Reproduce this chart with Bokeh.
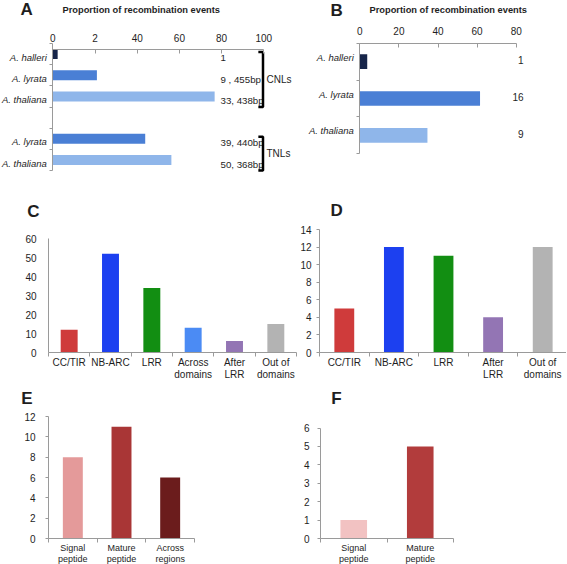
from bokeh.plotting import figure
from bokeh.models import Range1d, LinearAxis, FixedTicker
from bokeh.layouts import row, column
from bokeh.embed import file_html
from bokeh.resources import INLINE
from bokeh.core.properties import value

# ---------------- data ----------------
a_species = ["A. halleri", "A. lyrata", "A. thaliana", "A. lyrata", "A. thaliana"]
a_group = ["CNLs", "CNLs", "CNLs", "TNLs", "TNLs"]
a_values = [2.3, 20.9, 76.7, 43.8, 56.2]
a_notes = ["1", "9 , 455bp", "33, 438bp", "39, 440bp", "50, 368bp"]
a_ticks = [0, 20, 40, 60, 80, 100]
a_tick_labels = ["0", "2", "40", "60", "80", "100"]

b_species = ["A. halleri", "A. lyrata", "A. thaliana"]
b_values = [3.8, 61.5, 34.6]
b_notes = ["1", "16", "9"]
b_ticks = [0, 20, 40, 60, 80]
b_tick_labels = ["0", "20", "40", "60", "80"]

c_domains = ["CC/TIR", "NB-ARC", "LRR", "Across\ndomains", "After\nLRR", "Out of\ndomains"]
c_values = [12, 52, 34, 13, 6, 15]
c_ticks = [0, 10, 20, 30, 40, 50, 60]

d_domains = ["CC/TIR", "NB-ARC", "LRR", "After\nLRR", "Out of\ndomains"]
d_values = [5, 12, 11, 4, 12]
d_ticks = [0, 2, 4, 6, 8, 10, 12, 14]

e_regions = ["Signal\npeptide", "Mature\npeptide", "Across\nregions"]
e_values = [8, 11, 6]
e_ticks = [0, 2, 4, 6, 8, 10, 12]

f_regions = ["Signal\npeptide", "Mature\npeptide"]
f_values = [1, 5]
f_ticks = [0, 1, 2, 3, 4, 5, 6]

title_text = "Proportion of recombination events"

# ---------------- styles ----------------
FONT = "Liberation Sans"
GRAY = "#9a9a9a"
TXT = "#1e1e1e"
species_color = {"A. halleri": "#17254a", "A. lyrata": "#4a7fd5", "A. thaliana": "#8fb6ea"}
domain_color = {"CC/TIR": "#cf3b3b", "NB-ARC": "#1c40f0", "LRR": "#128e12",
                "Across\ndomains": "#4b8bf4", "After\nLRR": "#9375b4", "Out of\ndomains": "#b3b3b3"}
e_colors = ["#e49a9a", "#a93636", "#6b1c1c"]
f_colors = ["#f2c2c2", "#b23c3c"]


def lin(r0, d0, r1, d1):
    k = (d1 - d0) / (r1 - r0)
    return lambda r: d0 + (r - r0) * k


def panel(box, xmap, ymap):
    bl, bt, br, bb = box
    p = figure(width=br - bl, height=bb - bt,
               x_range=Range1d(xmap(bl), xmap(br)),
               y_range=Range1d(ymap(bb), ymap(bt)),
               min_border_left=0, min_border_right=0,
               min_border_top=0, min_border_bottom=0,
               output_backend="svg", toolbar_location=None,
               x_axis_type=None, y_axis_type=None)
    p.outline_line_color = None
    p.background_fill_color = "white"
    p.border_fill_color = "white"
    return p


def style_axis(ax, size="10px", italic=False):
    ax.axis_line_color = GRAY
    ax.major_tick_line_color = GRAY
    ax.minor_tick_line_color = GRAY
    ax.major_label_text_font = FONT
    ax.major_label_text_font_size = size
    ax.major_label_text_color = TXT
    if italic:
        ax.major_label_text_font_style = "italic"


def txt(p, x, y, text, size, bold=False, align="left"):
    p.text(x=x, y=y, text=text, text_font=value(FONT), text_font_size=size,
           text_font_style="bold" if bold else "normal", text_color=TXT,
           text_align=align, text_baseline="middle")


def cat_y_axis(p, pos, names, shift, at):
    bnds = [i + 0.5 for i in range(0, pos[-1] + 1)]
    ax = LinearAxis(ticker=FixedTicker(ticks=[q + shift for q in pos], minor_ticks=bnds),
                    major_label_overrides={q + shift: s for q, s in zip(pos, names)},
                    fixed_location=at, bounds=(bnds[0], bnds[-1]))
    style_axis(ax, "9.5px", italic=True)
    ax.major_tick_line_color = None
    ax.major_tick_in = 0
    ax.major_tick_out = 0
    ax.minor_tick_in = 0
    ax.minor_tick_out = 3
    ax.major_label_standoff = 3
    p.add_layout(ax, "left")


def top_axis(p, ticks, labels, at):
    ax = LinearAxis(ticker=FixedTicker(ticks=ticks), bounds=(ticks[0], ticks[-1]),
                    major_label_overrides={t: s for t, s in zip(ticks, labels)},
                    fixed_location=at)
    style_axis(ax, "10px")
    ax.major_tick_in = 4
    ax.major_tick_out = 0
    ax.minor_tick_out = 0
    ax.major_label_standoff = 8
    p.add_layout(ax, "above")


def cat_x_axis(p, pos, names, size="10px", lh=1.1):
    bnds = [q - 0.5 for q in pos] + [pos[-1] + 0.5]
    ax = LinearAxis(ticker=FixedTicker(ticks=pos, minor_ticks=bnds),
                    major_label_overrides={q: n for q, n in zip(pos, names)},
                    fixed_location=0, bounds=(bnds[0], bnds[-1]))
    style_axis(ax, size)
    ax.major_tick_line_color = None
    ax.major_tick_in = 0
    ax.major_tick_out = 0
    ax.minor_tick_in = 0
    ax.minor_tick_out = 4
    ax.major_label_standoff = 0
    ax.major_label_text_line_height = lh
    p.add_layout(ax, "below")


def num_y_axis(p, ticks, at, tick_out, standoff):
    ax = LinearAxis(ticker=FixedTicker(ticks=ticks), bounds=(ticks[0], ticks[-1]),
                    fixed_location=at)
    style_axis(ax)
    ax.major_tick_in = 0
    ax.major_tick_out = tick_out
    ax.major_label_standoff = standoff
    p.add_layout(ax, "left")


# ---------------- panel A ----------------
a_pos = []
k = 1
prev = None
for g in a_group:
    if prev is not None and g != prev:
        k += 1
    a_pos.append(k)
    k += 1
    prev = g

xA = lin(52.3, 0, 263.3, 100)
yA = lin(43, 0.5, 170, 6.5)
pA = panel((0, 0, 300, 190), xA, yA)
pA.hbar(y=a_pos, left=0, right=a_values, height=0.47,
        color=[species_color[s] for s in a_species], line_color=None)
# empirically calibrated so that the above-axis line lands at the top slot edge
top_axis(pA, a_ticks, a_tick_labels, yA(49))
cat_y_axis(pA, a_pos, a_species, 0.15, 0)

txt(pA, [xA(220)] * len(a_notes), [q + 0.2 for q in a_pos], a_notes, "9.7px")

bx = xA(262.5)
for g in dict.fromkeys(a_group):
    ps = [q for q, gg in zip(a_pos, a_group) if gg == g]
    y0, y1 = ps[0] - 0.1, ps[-1] + 0.5
    pA.line(x=[bx - 2.2, bx, bx, bx - 2.2], y=[y0, y0, y1, y1], line_width=2.5, color="black")
    txt(pA, [xA(266)], [sum(ps) / len(ps) + 0.18], [g], "10px")

txt(pA, [xA(20)], [yA(9)], ["A"], "17px", bold=True)
txt(pA, [xA(62)], [yA(9)], [title_text], "9.3px", bold=True)

# ---------------- panel B ----------------
b_pos = list(range(1, len(b_species) + 1))
xB = lin(359.3, 0, 515.7, 80)
yB = lin(42.7, 0.5, 153.3, 3.5)
pB = panel((300, 0, 566, 190), xB, yB)
pB.hbar(y=b_pos, left=0, right=b_values, height=0.4,
        color=[species_color[s] for s in b_species], line_color=None)
top_axis(pB, b_ticks, b_tick_labels, yB(42.7))
cat_y_axis(pB, b_pos, b_species, -0.12, 0)
txt(pB, [xB(523)] * len(b_notes), [q - 0.05 for q in b_pos], b_notes, "10px", align="right")
txt(pB, [xB(330)], [yB(10)], ["B"], "17px", bold=True)
txt(pB, [xB(369)], [yB(9)], [title_text], "9.3px", bold=True)

# ---------------- panel C ----------------
c_pos = list(range(1, len(c_domains) + 1))
xC = lin(48, 0.5, 296, 6.5)
yC = lin(352, 0, 238, 60)
pC = panel((0, 190, 298, 386), xC, yC)
pC.vbar(x=c_pos, top=c_values, bottom=0, width=0.41,
        color=[domain_color[d] for d in c_domains], line_color=None)
cat_x_axis(pC, c_pos, c_domains)
num_y_axis(pC, c_ticks, 0.5, 0, 12)
txt(pC, [xC(26.7)], [yC(210.7)], ["C"], "17px", bold=True)

# ---------------- panel D ----------------
d_pos = list(range(1, len(d_domains) + 1))
xD = lin(319, 0.5, 567, 5.5)
yD = lin(352, 0, 229, 14)
pD = panel((298, 190, 566, 386), xD, yD)
pD.vbar(x=d_pos, top=d_values, bottom=0, width=0.4,
        color=[domain_color[d] for d in d_domains], line_color=None)
cat_x_axis(pD, d_pos, d_domains)
num_y_axis(pD, d_ticks, 0.5, 3, 5)
txt(pD, [xD(330)], [yD(210)], ["D"], "17px", bold=True)

# ---------------- panel E ----------------
e_pos = list(range(1, len(e_regions) + 1))
xE = lin(48, 0.5, 194, 3.5)
yE = lin(538, 0, 416, 12)
pE = panel((0, 386, 300, 564), xE, yE)
pE.vbar(x=e_pos, top=e_values, bottom=0, width=0.41, color=e_colors, line_color=None)
cat_x_axis(pE, e_pos, e_regions, "9px", 1.15)
num_y_axis(pE, e_ticks, 0.5, 3, 10)
txt(pE, [xE(20.7)], [yE(398.3)], ["E"], "17px", bold=True)

# ---------------- panel F ----------------
f_pos = list(range(1, len(f_regions) + 1))
xF = lin(320, 0.5, 453, 2.5)
yF = lin(538, 0, 427.5, 6)
pF = panel((300, 386, 566, 564), xF, yF)
pF.vbar(x=f_pos, top=f_values, bottom=0, width=0.4, color=f_colors, line_color=None)
cat_x_axis(pF, f_pos, f_regions, "9px", 1.15)
num_y_axis(pF, f_ticks, 0.5, 3, 8)
txt(pF, [xF(330.7)], [yF(398.3)], ["F"], "17px", bold=True)

layout = column(row(pA, pB), row(pC, pD), row(pE, pF))
open("out.html", "w").write(file_html(layout, INLINE))
